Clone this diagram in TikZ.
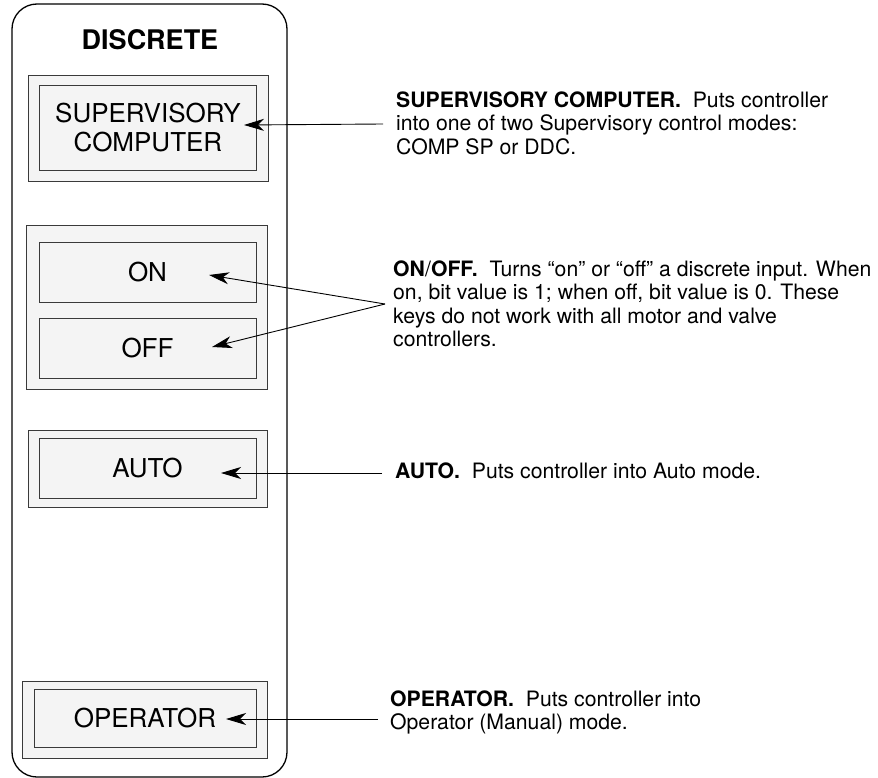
\documentclass[tikz,border=0pt]{standalone}
\usepackage{fontspec}
\setmainfont{TeX Gyre Heros}
\usetikzlibrary{arrows.meta}

\definecolor{keyfill}{HTML}{F4F4F4}
\definecolor{keyline}{HTML}{3A3A3A}

\tikzset{
  panel/.style={draw=black, line width=1.3pt, rounded corners=25pt},
  frame/.style={draw=keyline, fill=keyfill, line width=1pt, inner sep=0pt},
  keybox/.style={draw=keyline, fill=keyfill, line width=1pt, inner sep=0pt,
    minimum width=217pt, minimum height=60pt, align=center,
    font=\fontsize{26}{29}\selectfont},
  note/.style={anchor=north west, inner sep=0pt, align=left,
    font=\fontsize{21.2}{23.4}\selectfont},
  pointer/.style={draw=black, line width=0.9pt,
    -{Stealth[length=20pt, width=12pt, inset=6pt]}}
}

\begin{document}
\begin{tikzpicture}[x=1pt, y=-1pt]
  \useasboundingbox (0,0) rectangle (878,778);

  % control panel outline
  \draw[panel] (12,4) rectangle (287,777);
  \node[font=\bfseries\fontsize{27}{30}\selectfont] (title) at (150,40) {DISCRETE};

  % key groups: outer frames
  \node[frame, minimum width=240pt, minimum height=106pt] (supframe) at (148,129) {};
  \node[frame, minimum width=241pt, minimum height=163pt] (onoffframe) at (146.5,307.5) {};
  \node[frame, minimum width=239pt, minimum height=77pt] (autoframe) at (147.5,468.5) {};
  \node[frame, minimum width=245pt, minimum height=77pt] (operframe) at (144.5,719.5) {};

  % keys
  \node[keybox, minimum height=85pt] (supkey) at (148,128) {SUPERVISORY\\COMPUTER};
  \node[keybox] (onkey) at (147.5,272) {ON};
  \node[keybox] (offkey) at (147.5,348) {OFF};
  \node[keybox] (autokey) at (147.5,468) {AUTO};
  \node[keybox, minimum width=222pt, minimum height=58pt] (operkey) at (145,718) {OPERATOR};

  % descriptions
  \node[note] (supnote) at (396,91.5)
    {\textbf{SUPERVISORY COMPUTER.}\ \ Puts controller\\
     into one of two Supervisory control modes:\\
     COMP SP or DDC.};
  \node[note] (onoffnote) at (393,260.5)
    {\textbf{ON}/\textbf{OFF.}\ \ Turns “on” or “off” a discrete input. When\\
     on, bit value is 1; when off, bit value is 0. These\\
     keys do not work with all motor and valve\\
     controllers.};
  \node[note, anchor=base west] (autonote) at (395,478.5)
    {\textbf{AUTO.}\ \ Puts controller into Auto mode.};
  \node[note] (opernote) at (390,690.5)
    {\textbf{OPERATOR.}\ \ Puts controller into\\
     Operator (Manual) mode.};

  % leader line ends
  \coordinate (supfrom) at (383,124);
  \coordinate (supto) at (244,125);
  \coordinate (onofffrom) at (385,304);
  \coordinate (onto) at (209,275);
  \coordinate (offto) at (212,347);
  \coordinate (autofrom) at (382,473);
  \coordinate (autoto) at (221,473);
  \coordinate (operfrom) at (378,719);
  \coordinate (operto) at (226,719);

  % leader lines
  \draw[pointer] (supfrom) -- (supto);
  \draw[pointer] (onofffrom) -- (onto);
  \draw[pointer] (onofffrom) -- (offto);
  \draw[pointer] (autofrom) -- (autoto);
  \draw[pointer] (operfrom) -- (operto);
\end{tikzpicture}
\end{document}
